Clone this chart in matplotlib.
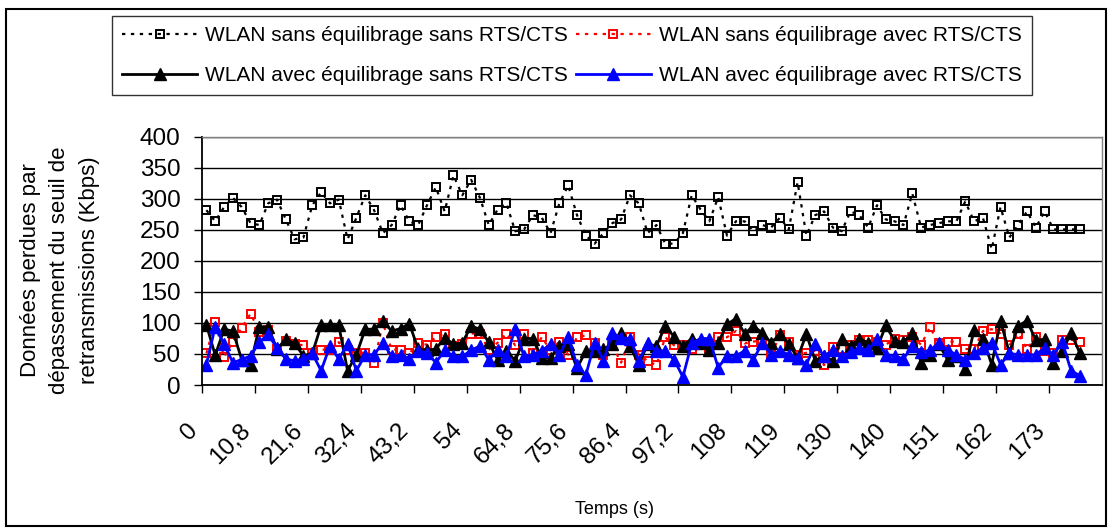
import numpy as np
import matplotlib.pyplot as plt
import matplotlib.transforms as mtransforms
from matplotlib.patches import Rectangle

# valeurs (Kbps), un point toutes les 1,8 s
sans_eq_sans_rts = [282, 264, 287, 302, 287, 261, 258, 293, 299, 267,
                    235, 238, 290, 311, 293, 299, 235, 270, 306, 282,
                    245, 258, 290, 264, 258, 290, 319, 280, 338, 306,
                    331, 302, 258, 283, 293, 248, 251, 274, 270, 245,
                    293, 322, 274, 241, 228, 245, 261, 267, 306, 293,
                    245, 258, 228, 228, 245, 306, 283, 264, 303, 241,
                    264, 264, 248, 258, 254, 270, 251, 327, 241, 274,
                    280, 254, 248, 280, 274, 254, 290, 267, 264, 258,
                    309, 254, 258, 261, 264, 264, 296, 264, 270, 219,
                    287, 238, 258, 280, 254, 280, 251, 251, 251, 251]

sans_eq_avec_rts = [51, 102, 45, 70, 92, 115, 86, 88, 58, 71,
                    66, 64, 52, 57, 57, 69, 56, 52, 52, 36,
                    100, 57, 57, 51, 67, 65, 77, 83, 63, 66,
                    83, 83, 57, 68, 83, 64, 83, 52, 77, 56,
                    70, 49, 77, 80, 68, 49, 64, 36, 77, 49,
                    39, 32, 77, 64, 64, 58, 66, 60, 77, 77,
                    87, 67, 70, 72, 49, 80, 70, 49, 52, 55,
                    32, 62, 58, 65, 73, 73, 69, 65, 75, 73,
                    77, 65, 93, 67, 70, 70, 58, 58, 87, 90,
                    83, 64, 83, 58, 77, 55, 51, 73, 73, 70]

avec_eq_sans_rts = [97, 48, 90, 87, 41, 33, 94, 93, 58, 74,
                    67, 47, 51, 96, 96, 96, 23, 49, 90, 90,
                    103, 87, 91, 99, 58, 56, 58, 76, 66, 68,
                    95, 90, 69, 41, 55, 39, 75, 75, 44, 44,
                    63, 66, 27, 55, 55, 58, 66, 84, 63, 33,
                    66, 63, 95, 78, 63, 75, 68, 56, 68, 98,
                    107, 83, 95, 84, 68, 82, 66, 44, 82, 39,
                    47, 39, 75, 63, 75, 68, 59, 96, 71, 69,
                    84, 36, 49, 66, 41, 47, 26, 89, 75, 33,
                    103, 52, 95, 104, 72, 74, 36, 55, 84, 51]

avec_eq_avec_rts = [33, 94, 66, 36, 41, 47, 69, 82, 59, 42,
                    39, 42, 51, 23, 63, 42, 66, 23, 49, 49,
                    68, 46, 48, 42, 55, 52, 36, 56, 46, 46,
                    56, 63, 41, 56, 46, 91, 46, 49, 55, 66,
                    48, 78, 32, 16, 68, 39, 84, 76, 75, 39,
                    67, 55, 55, 41, 13, 67, 75, 75, 28, 47,
                    47, 55, 41, 68, 49, 55, 49, 44, 33, 66,
                    47, 56, 46, 53, 59, 56, 74, 49, 47, 42,
                    63, 53, 56, 68, 56, 49, 41, 51, 60, 68,
                    33, 51, 49, 48, 49, 60, 49, 69, 23, 15]

tick_labels = ['0', '10,8', '21,6', '32,4', '43,2', '54', '64,8', '75,6',
               '86,4', '97,2', '108', '119', '130', '140', '151', '162', '173']

plt.rcParams['font.family'] = ['Liberation Sans', 'DejaVu Sans']

pas = 1.8
n = len(sans_eq_sans_rts)
temps = pas / 2 + pas * np.arange(n)

fig = plt.figure(figsize=(11.09, 5.28), dpi=100)
ax = fig.add_axes([202 / 1109, 1 - 385 / 528, 900 / 1109, 248 / 528])

l1, = ax.plot(temps, sans_eq_sans_rts, color='black', linestyle=(0, (1.5, 2.5)), lw=1.6,
              marker='s', ms=5.5, mfc='none', mec='black', mew=1.4)
l2, = ax.plot(temps, sans_eq_avec_rts, color='red', linestyle=(0, (1.5, 2.5)), lw=1.6,
              marker='s', ms=5.5, mfc='none', mec='red', mew=1.4)
l3, = ax.plot(temps, avec_eq_sans_rts, color='black', linestyle='-', lw=2,
              marker='^', ms=8, mfc='black', mec='black')
l4, = ax.plot(temps, avec_eq_avec_rts, color='#0000ff', linestyle='-', lw=2,
              marker='^', ms=8, mfc='#0000ff', mec='#0000ff')

ax.set_xlim(0, pas * (n + 2))
ax.set_ylim(0, 400)
ax.set_yticks(np.arange(0, 401, 50))
positions = np.arange(len(tick_labels)) * 6 * pas
ax.set_xticks(positions)
ax.set_xticklabels([])

# étiquettes inclinées posées à la main (décalées sous l'axe)
base = mtransforms.blended_transform_factory(ax.transData, ax.transAxes)
decal = mtransforms.ScaledTranslation(-0.08, -0.42, fig.dpi_scale_trans)
for pos, lab in zip(positions, tick_labels):
    ax.text(pos, 0, lab, transform=base + decal, rotation=45, ha='right', va='center',
            rotation_mode='anchor', fontsize=17.5, clip_on=False)

ax.yaxis.grid(True, color='black', lw=1)
ax.set_axisbelow(True)
ax.tick_params(axis='both', direction='out', length=5.5, width=1, labelsize=17.5, colors='black')
ax.tick_params(axis='y', pad=10)
for s in ['left', 'bottom']:
    ax.spines[s].set_color('black')
    ax.spines[s].set_linewidth(1.3)
for s in ['top', 'right']:
    ax.spines[s].set_color('#808080')
    ax.spines[s].set_linewidth(1)

fig.text(60 / 1109, 1 - 270 / 528,
         'Données perdues par\ndépassement du seuil de\nretransmissions (Kbps)',
         rotation=90, ha='center', va='center', multialignment='center',
         fontsize=16, linespacing=1.5)
fig.text(615 / 1109, 1 - 510 / 528, 'Temps (s)', ha='center', va='center', fontsize=13)

leg = fig.legend([l1, l3, l2, l4],
                 ['WLAN sans équilibrage sans RTS/CTS', 'WLAN avec équilibrage sans RTS/CTS',
                  'WLAN sans équilibrage avec RTS/CTS', 'WLAN avec équilibrage avec RTS/CTS'],
                 ncol=2, loc='center', bbox_to_anchor=(572 / 1109, 1 - 55.5 / 528),
                 fontsize=15, frameon=True, fancybox=False, edgecolor='black',
                 handlelength=3.6, handletextpad=0.4, columnspacing=0.35,
                 labelspacing=1.0, borderpad=0.5, borderaxespad=0)
leg.get_frame().set_linewidth(1)

fig.patches.append(Rectangle((6 / 1109, 2 / 528), 1100 / 1109, 517 / 528,
                             transform=fig.transFigure, fill=False,
                             edgecolor='black', lw=1.5))

fig.savefig('out.png', dpi=100)
